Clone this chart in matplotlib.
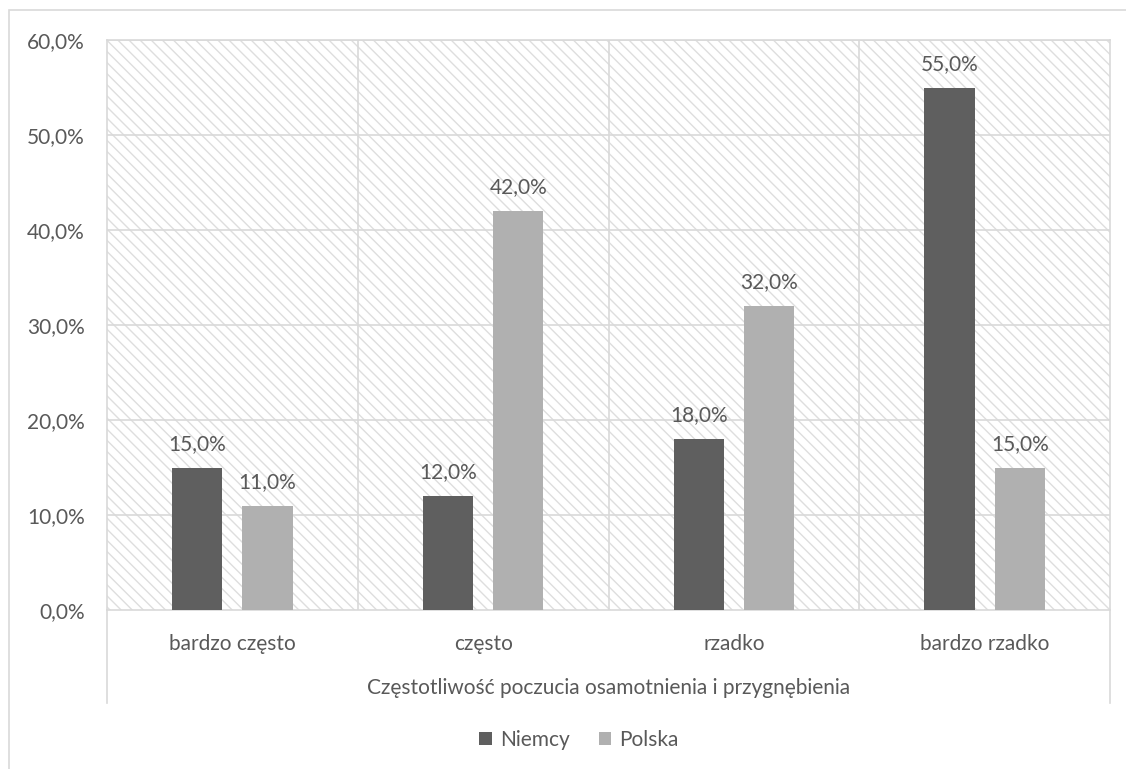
import matplotlib.pyplot as plt
from matplotlib.patches import Rectangle
from matplotlib.lines import Line2D
import numpy as np

# data
categories = ['bardzo często', 'często', 'rzadko', 'bardzo rzadko']
niemcy = [15.0, 12.0, 18.0, 55.0]
polska = [11.0, 42.0, 32.0, 15.0]
y_ticks = [0, 10, 20, 30, 40, 50, 60]

plt.rcParams['font.family'] = ['Lato', 'DejaVu Sans']
plt.rcParams['hatch.linewidth'] = 1.0
text_color = '#595959'
grid_color = '#d9d9d9'
fs = 15

W, H = 1126, 769
fig = plt.figure(figsize=(W / 100, H / 100), dpi=100)

# plot area in pixels: x 107..1110, y 40..610
left, right, top, bottom = 107, 1110, 40, 610
ax = fig.add_axes([left / W, 1 - bottom / H, (right - left) / W, (bottom - top) / H])

# hatched background (dense diagonal lines)
bg = Rectangle((0, 0), 1, 1, transform=ax.transAxes, facecolor='white',
               edgecolor='#dedede', hatch=chr(92) * 3, linewidth=0, zorder=0)
ax.add_patch(bg)

x = np.arange(len(categories))
w = 0.2
off = 0.14
b1 = ax.bar(x - off, niemcy, w, color='#5f5f5f', label='Niemcy', zorder=3)
b2 = ax.bar(x + off, polska, w, color='#b0b0b0', label='Polska', zorder=3)

for bars, vals in ((b1, niemcy), (b2, polska)):
    for rect, v in zip(bars, vals):
        ax.annotate(f'{v:.1f}%'.replace('.', ','),
                    (rect.get_x() + rect.get_width() / 2, rect.get_height()),
                    xytext=(0, 10), textcoords='offset points',
                    ha='center', va='bottom', fontsize=fs, color=text_color, zorder=4)

ax.set_xlim(-0.5, len(categories) - 0.5)
ax.set_ylim(0, 60)
ax.set_yticks(y_ticks)
ax.set_yticklabels([f'{t:.1f}%'.replace('.', ',') for t in y_ticks], fontsize=fs, color=text_color)
ax.set_xticks(x)
ax.set_xticklabels(categories, fontsize=fs, color=text_color)
ax.tick_params(axis='both', length=0)
ax.tick_params(axis='x', pad=17)
ax.tick_params(axis='y', pad=16)

# gridlines
for t in y_ticks[1:]:
    ax.axhline(t, color=grid_color, linewidth=1.2, zorder=1)
for b in x[:-1] + 0.5:
    ax.axvline(b, color=grid_color, linewidth=1.2, zorder=1)
for s in ax.spines.values():
    s.set_color(grid_color)
    s.set_linewidth(1.2)

# left/right edges extending under the category axis
for px in (left, right):
    fig.add_artist(Line2D([px / W, px / W], [1 - bottom / H, 1 - 703 / H],
                          color=grid_color, linewidth=1.2))

fig.text((left + right) / 2 / W, 1 - 688 / H,
         'Częstotliwość poczucia osamotnienia i przygnębienia',
         ha='center', va='center', fontsize=fs, color=text_color)

leg = fig.legend(handles=[b1, b2], loc='center', bbox_to_anchor=(579 / W, 1 - 740 / H),
                 ncol=2, frameon=False, fontsize=fs, handlelength=0.6, handleheight=0.6,
                 handletextpad=0.4, columnspacing=1.4, labelcolor=text_color)

# outer chart border
fig.add_artist(Rectangle((9 / W, -0.01), 1.01 - 9 / W, 1 - 10 / H + 0.01,
                         transform=fig.transFigure, fill=False,
                         edgecolor=grid_color, linewidth=1.2))

fig.savefig('out.png', dpi=100)
